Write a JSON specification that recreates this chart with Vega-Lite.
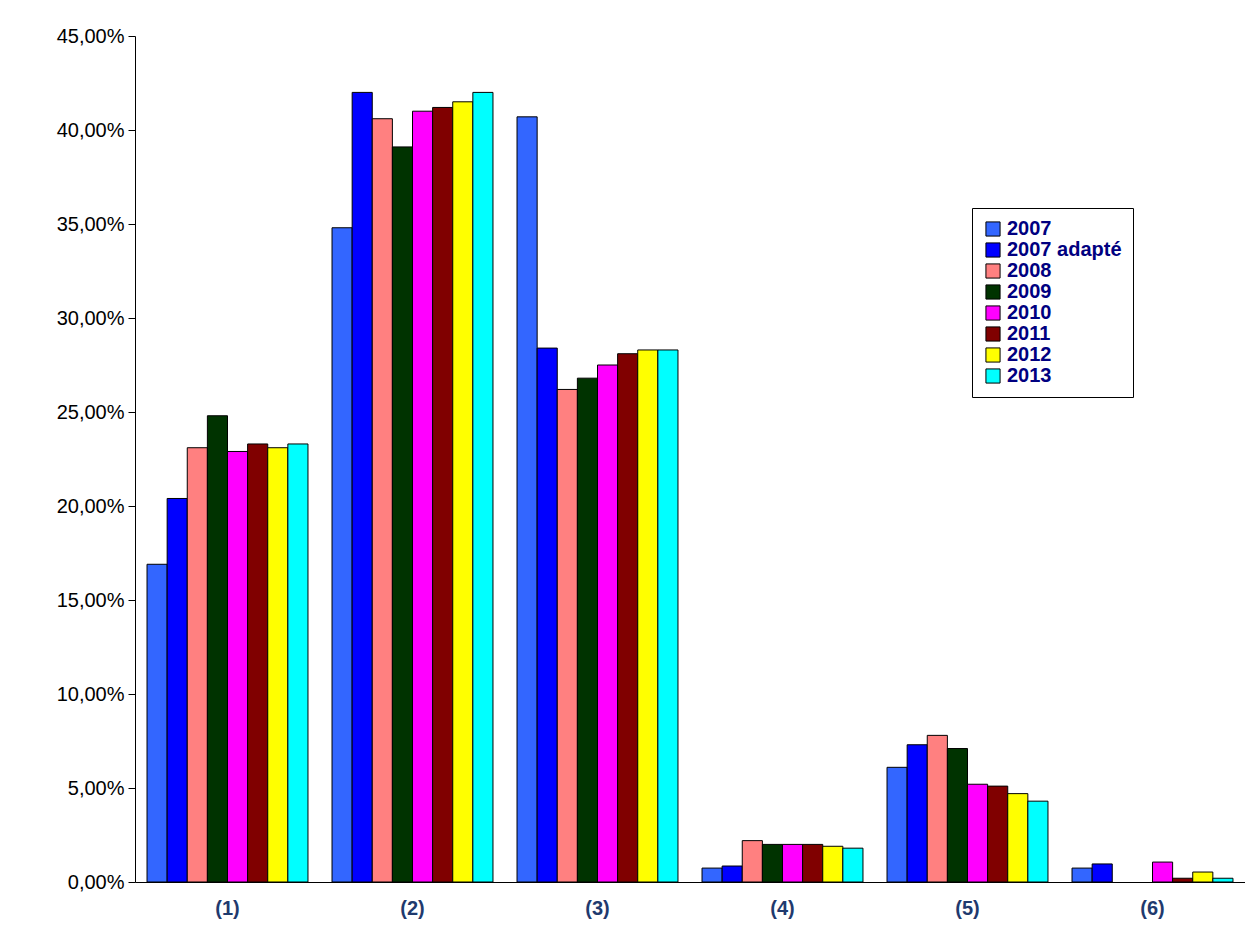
{
  "$schema": "https://vega.github.io/schema/vega-lite/v6.json",
  "width": 1110,
  "height": 846,
  "autosize": {"type": "none"},
  "padding": {"left": 135, "top": 36, "right": 0, "bottom": 65},
  "background": "white",
  "config": {"view": {"stroke": null}, "font": "Liberation Sans"},
  "data": {
    "values": [
      {"g": "(1)", "s": "2007", "v": 16.9}, {"g": "(1)", "s": "2007 adapté", "v": 20.4}, {"g": "(1)", "s": "2008", "v": 23.1}, {"g": "(1)", "s": "2009", "v": 24.8}, {"g": "(1)", "s": "2010", "v": 22.9}, {"g": "(1)", "s": "2011", "v": 23.3}, {"g": "(1)", "s": "2012", "v": 23.1}, {"g": "(1)", "s": "2013", "v": 23.3},
      {"g": "(2)", "s": "2007", "v": 34.8}, {"g": "(2)", "s": "2007 adapté", "v": 42.0}, {"g": "(2)", "s": "2008", "v": 40.6}, {"g": "(2)", "s": "2009", "v": 39.1}, {"g": "(2)", "s": "2010", "v": 41.0}, {"g": "(2)", "s": "2011", "v": 41.2}, {"g": "(2)", "s": "2012", "v": 41.5}, {"g": "(2)", "s": "2013", "v": 42.0},
      {"g": "(3)", "s": "2007", "v": 40.7}, {"g": "(3)", "s": "2007 adapté", "v": 28.4}, {"g": "(3)", "s": "2008", "v": 26.2}, {"g": "(3)", "s": "2009", "v": 26.8}, {"g": "(3)", "s": "2010", "v": 27.5}, {"g": "(3)", "s": "2011", "v": 28.1}, {"g": "(3)", "s": "2012", "v": 28.3}, {"g": "(3)", "s": "2013", "v": 28.3},
      {"g": "(4)", "s": "2007", "v": 0.74}, {"g": "(4)", "s": "2007 adapté", "v": 0.85}, {"g": "(4)", "s": "2008", "v": 2.2}, {"g": "(4)", "s": "2009", "v": 2.0}, {"g": "(4)", "s": "2010", "v": 2.0}, {"g": "(4)", "s": "2011", "v": 2.0}, {"g": "(4)", "s": "2012", "v": 1.9}, {"g": "(4)", "s": "2013", "v": 1.8},
      {"g": "(5)", "s": "2007", "v": 6.1}, {"g": "(5)", "s": "2007 adapté", "v": 7.3}, {"g": "(5)", "s": "2008", "v": 7.8}, {"g": "(5)", "s": "2009", "v": 7.1}, {"g": "(5)", "s": "2010", "v": 5.2}, {"g": "(5)", "s": "2011", "v": 5.1}, {"g": "(5)", "s": "2012", "v": 4.7}, {"g": "(5)", "s": "2013", "v": 4.3},
      {"g": "(6)", "s": "2007", "v": 0.74}, {"g": "(6)", "s": "2007 adapté", "v": 0.96}, {"g": "(6)", "s": "2008", "v": 0}, {"g": "(6)", "s": "2009", "v": 0}, {"g": "(6)", "s": "2010", "v": 1.06}, {"g": "(6)", "s": "2011", "v": 0.2}, {"g": "(6)", "s": "2012", "v": 0.53}, {"g": "(6)", "s": "2013", "v": 0.2}
    ]
  },
  "mark": {"type": "bar", "stroke": "black", "strokeWidth": 1},
  "encoding": {
    "x": {
      "field": "g", "type": "nominal", "title": null,
      "scale": {"paddingInner": 0.13, "paddingOuter": 0.065},
      "axis": {"labelAngle": 0, "labelFontWeight": "bold", "labelColor": "#1f3a6e", "labelFontSize": 20, "labelPadding": 16, "ticks": false, "domainColor": "black"}
    },
    "xOffset": {"field": "s", "type": "nominal", "scale": {"paddingInner": 0, "paddingOuter": 0}},
    "y": {
      "field": "v", "type": "quantitative", "title": null,
      "scale": {"domain": [0, 45], "nice": false},
      "axis": {"values": [0, 5, 10, 15, 20, 25, 30, 35, 40, 45], "grid": false, "labelExpr": "replace(format(datum.value / 100, '.2%'), '.', ',')", "labelFontSize": 20, "labelColor": "black", "domainColor": "black", "tickColor": "black", "tickSize": 7, "labelPadding": 4}
    },
    "strokeOpacity": {"condition": {"test": "datum.v == 0", "value": 0}, "value": 1},
    "color": {
      "field": "s", "type": "nominal",
      "scale": {
        "domain": ["2007", "2007 adapté", "2008", "2009", "2010", "2011", "2012", "2013"],
        "range": ["#3366ff", "#0000ff", "#ff8080", "#003300", "#ff00ff", "#800000", "#ffff00", "#00ffff"]
      },
      "legend": {
        "title": null, "orient": "none", "legendX": 837, "legendY": 172,
        "fillColor": "white", "strokeColor": "black", "padding": 11,
        "symbolType": "square", "symbolStrokeColor": "black", "symbolStrokeWidth": 1, "symbolSize": 200, "symbolOpacity": 1,
        "labelFontSize": 20, "labelFontWeight": "bold", "labelColor": "#000080", "rowPadding": 1, "labelLimit": 300
      }
    }
  }
}
